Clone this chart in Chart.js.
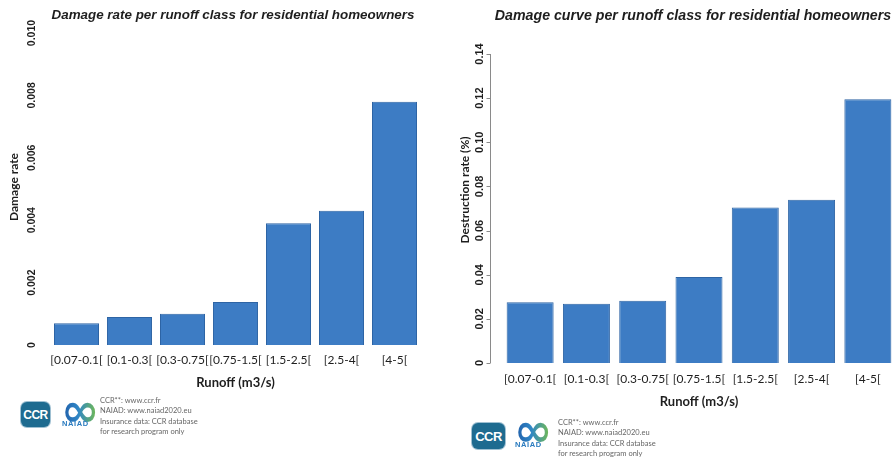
<!DOCTYPE html>
<html>
<head>
<meta charset="utf-8">
<script src="https://cdn.jsdelivr.net/npm/chart.js@4/dist/chart.umd.min.js"></script>
<style>
  html, body { margin: 0; padding: 0; background: #fff; }
  body { width: 894px; height: 461px; position: relative; overflow: hidden; font-family: "Lato", "Liberation Sans", sans-serif; }
  .panel { position: absolute; top: 0; }
  .logo-ccr { position: absolute; background: #1e6b90; color: #fff; border-radius: 6px; font: bold 12px "Liberation Sans", sans-serif;
              display: flex; align-items: center; justify-content: center; letter-spacing: -0.5px; box-shadow: 0 0 0 1px #9fc0d2; }
  .logo-inf { position: absolute; font: bold 46px "DejaVu Sans", sans-serif; line-height: 1;
              background: linear-gradient(90deg, #1f5aa6 0%, #2f86c6 45%, #7cc242 100%);
              -webkit-background-clip: text; background-clip: text; color: transparent; }
  .logo-naiad { position: absolute; font: bold 7.5px "Liberation Sans", sans-serif; color: #2a7bbf; letter-spacing: 0.6px; }
  .note { position: absolute; font: 7.5px "Lato", sans-serif; color: #666; line-height: 10.3px; white-space: nowrap; }
</style>
</head>
<body>

<div class="panel" style="left:0; width:447px; height:395px;">
  <canvas id="damageChart" width="447" height="395"></canvas>
</div>
<div class="panel" style="left:447px; width:455px; height:420px;">
  <canvas id="curveChart" width="455" height="420"></canvas>
</div>

<!-- footers with source logos -->
<div class="logo-ccr" style="left:21px; top:402px; width:29px; height:25px;">CCR</div>
<div class="logo-inf" style="left:61px; top:387px;">∞</div>
<div class="logo-naiad" style="left:62px; top:419px;">NAIAD</div>
<div class="note" style="left:100px; top:396px;">CCR**: www.ccr.fr<br>NAIAD: www.naiad2020.eu<br>Insurance data: CCR database<br>for research program only</div>

<div class="logo-ccr" style="left:472px; top:423px; width:33px; height:26px; font-size:13px;">CCR</div>
<div class="logo-inf" style="left:514px; top:407px;">∞</div>
<div class="logo-naiad" style="left:515px; top:440px;">NAIAD</div>
<div class="note" style="left:558px; top:418px;">CCR**: www.ccr.fr<br>NAIAD: www.naiad2020.eu<br>Insurance data: CCR database<br>for research program only</div>

<script>
// Runoff classes shared by both charts
const runoffClasses = ['[0.07-0.1[', '[0.1-0.3[', '[0.3-0.75[', '[0.75-1.5[', '[1.5-2.5[', '[2.5-4[', '[4-5['];

// Left chart: damage rate
const damageRate = [0.0007, 0.0009, 0.001, 0.00138, 0.0039, 0.0043, 0.0078];
const damageTicks = [0, 0.002, 0.004, 0.006, 0.008, 0.010];
const damageTickLabels = ['0', '0.002', '0.004', '0.006', '0.008', '0.010'];

// Right chart: destruction rate
const destructionRate = [0.0275, 0.0268, 0.0282, 0.039, 0.0705, 0.074, 0.1195];
const destructionTicks = [0, 0.02, 0.04, 0.06, 0.08, 0.10, 0.12, 0.14];
const destructionTickLabels = ['0', '0.02', '0.04', '0.06', '0.08', '0.10', '0.12', '0.14'];

const BAR_FILL = '#3d7cc4';
const BAR_EDGE = '#2e64a4';
const TEXT = '#1e1e1e';

// Draws the R-style bits: rotated y tick labels, y title, optional axis line, chart title
const rStylePlugin = {
    id: 'rStyle',
    afterDraw(chart, args, o) {
        const ctx = chart.ctx;
        const y = chart.scales.y;
        ctx.save();
        ctx.fillStyle = TEXT;

        // axis line with outward ticks
        if (o.axisX != null) {
            const top = y.getPixelForValue(o.ticks[o.ticks.length - 1]);
            const bottom = y.getPixelForValue(o.ticks[0]);
            ctx.strokeStyle = '#8a8a8a';
            ctx.lineWidth = 1;
            ctx.beginPath();
            ctx.moveTo(o.axisX, top);
            ctx.lineTo(o.axisX, bottom);
            o.ticks.forEach(v => {
                const py = Math.round(y.getPixelForValue(v)) + 0.5;
                ctx.moveTo(o.axisX - 4, py);
                ctx.lineTo(o.axisX, py);
            });
            ctx.stroke();
        }

        // tick labels, reading bottom to top
        ctx.font = o.tickFont;
        ctx.textAlign = 'center';
        ctx.textBaseline = 'middle';
        o.ticks.forEach((v, i) => {
            ctx.save();
            ctx.translate(o.labelX, y.getPixelForValue(v));
            ctx.rotate(-Math.PI / 2);
            ctx.fillText(o.tickLabels[i], 0, 0);
            ctx.restore();
        });

        // y axis title
        ctx.font = o.yTitleFont;
        ctx.save();
        ctx.translate(o.yTitlePos[0], o.yTitlePos[1]);
        ctx.rotate(-Math.PI / 2);
        ctx.fillText(o.yTitle, 0, 0);
        ctx.restore();

        // main title
        ctx.font = o.titleFont;
        ctx.fillText(o.title, o.titlePos[0], o.titlePos[1]);
        ctx.restore();
    }
};

function makeBarChart(canvasId, values, cfg) {
    const ctx = document.getElementById(canvasId).getContext('2d');
    return new Chart(ctx, {
        type: 'bar',
        data: {
            labels: runoffClasses,
            datasets: [{
                data: values,
                backgroundColor: BAR_FILL,
                borderColor: BAR_EDGE,
                borderWidth: 1,
                barPercentage: cfg.barPercentage,
                categoryPercentage: 1
            }]
        },
        options: {
            responsive: false,
            animation: false,
            layout: { padding: cfg.padding },
            plugins: {
                legend: { display: false },
                tooltip: { enabled: false },
                rStyle: cfg.rStyle
            },
            scales: {
                x: {
                    grid: { display: false, drawTicks: false },
                    border: { display: false },
                    ticks: { color: TEXT, font: { family: 'Lato', size: 12 }, padding: cfg.xTickPadding, maxRotation: 0, autoSkip: false },
                    title: {
                        display: true,
                        text: 'Runoff (m3/s)',
                        color: TEXT,
                        font: { family: 'Lato', size: 13, weight: 'bold' },
                        padding: { top: 0, bottom: cfg.xTitlePad }
                    },
                    afterFit(scale) { scale.height = cfg.xHeight; }
                },
                y: {
                    min: 0,
                    max: cfg.yMax,
                    grid: { display: false, drawTicks: false },
                    border: { display: false },
                    ticks: { display: false },
                    afterFit(scale) { scale.width = cfg.yWidth; }
                }
            }
        },
        plugins: [rStylePlugin]
    });
}

makeBarChart('damageChart', damageRate, {
    yMax: 0.010,
    barPercentage: 0.85,
    padding: { left: 0, right: 26, top: 33, bottom: 0 },
    yWidth: 50,
    xHeight: 50,
    xTickPadding: 8,
    xTitlePad: 4,
    rStyle: {
        ticks: damageTicks,
        tickLabels: damageTickLabels,
        tickFont: 'bold 10.5px "Liberation Sans"',
        labelX: 32,
        axisX: null,
        yTitle: 'Damage rate',
        yTitleFont: 'bold 12px "Lato"',
        yTitlePos: [14, 187],
        title: 'Damage rate per runoff class for residential homeowners',
        titleFont: 'italic bold 13.4px "Liberation Sans"',
        titlePos: [233, 15]
    }
});

makeBarChart('curveChart', destructionRate, {
    yMax: 0.14,
    barPercentage: 0.835,
    padding: { left: 0, right: 6, top: 54, bottom: 0 },
    yWidth: 55,
    xHeight: 57,
    xTickPadding: 9,
    xTitlePad: 10,
    rStyle: {
        ticks: destructionTicks,
        tickLabels: destructionTickLabels,
        tickFont: 'bold 11px "Liberation Sans"',
        labelX: 33,
        axisX: 43.5,
        yTitle: 'Destruction rate (%)',
        yTitleFont: 'bold 12px "Lato"',
        yTitlePos: [18, 190],
        title: 'Damage curve per runoff class for residential homeowners',
        titleFont: 'italic bold 14.2px "Liberation Sans"',
        titlePos: [246, 16]
    }
});
</script>
</body>
</html>
